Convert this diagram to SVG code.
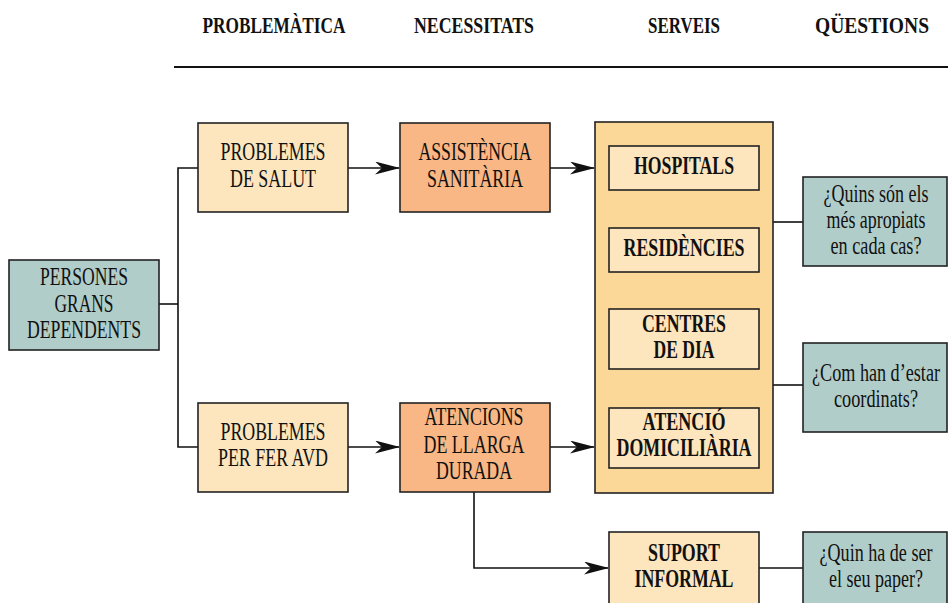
<svg xmlns="http://www.w3.org/2000/svg" width="948" height="603" viewBox="0 0 948 603">
<defs>
<marker id="ah" markerWidth="25" markerHeight="13" refX="24" refY="6.5" orient="auto" markerUnits="userSpaceOnUse">
<path d="M0,0 L25,6.5 L0,13 L7,6.5 Z" fill="#111"/>
</marker>
</defs>
<style>
.t{font-family:"Liberation Serif","Times New Roman",serif;font-size:25px;fill:#111;text-anchor:middle}
.b{font-weight:bold}
.h{font-family:"Liberation Serif","Times New Roman",serif;font-size:23px;font-weight:bold;fill:#111;text-anchor:middle}
.box{stroke:#222;stroke-width:1.6}
.teal{fill:#b1cdc9}
.light{fill:#fde5bd}
.orange{fill:#f8b784}
.gold{fill:#fcd898}
.c{fill:none;stroke:#111;stroke-width:1.6}
</style>
<rect width="948" height="603" fill="#fff"/>
<g id="header">
<text class="h" x="274" y="33" textLength="143" lengthAdjust="spacingAndGlyphs">PROBLEMÀTICA</text>
<text class="h" x="474" y="33" textLength="120" lengthAdjust="spacingAndGlyphs">NECESSITATS</text>
<text class="h" x="684" y="33" textLength="72" lengthAdjust="spacingAndGlyphs">SERVEIS</text>
<text class="h" x="872" y="33" textLength="114" lengthAdjust="spacingAndGlyphs">QÜESTIONS</text>
<line x1="174" y1="67" x2="948" y2="67" stroke="#111" stroke-width="2"/>
</g>
<g id="connectors">
<polyline class="c" points="159,304 178,304"/>
<polyline class="c" points="198,168 178,168 178,447 198,447"/>
<line class="c" x1="348" y1="168" x2="399" y2="168" marker-end="url(#ah)"/>
<line class="c" x1="550" y1="168" x2="594" y2="168" marker-end="url(#ah)"/>
<line class="c" x1="348" y1="447" x2="399" y2="447" marker-end="url(#ah)"/>
<line class="c" x1="550" y1="447" x2="594" y2="447" marker-end="url(#ah)"/>
<polyline class="c" points="474,492 474,568 608,568" marker-end="url(#ah)"/>
<line class="c" x1="773" y1="222" x2="803" y2="222"/>
<line class="c" x1="773" y1="385" x2="803" y2="385"/>
<line class="c" x1="759" y1="568" x2="803" y2="568"/>
</g>
<g id="persones">
<rect class="box teal" x="9" y="260" width="150" height="90"/>
<text class="t" x="84" y="285" textLength="88" lengthAdjust="spacingAndGlyphs">PERSONES</text>
<text class="t" x="84" y="312" textLength="59" lengthAdjust="spacingAndGlyphs">GRANS</text>
<text class="t" x="84" y="338" textLength="114" lengthAdjust="spacingAndGlyphs">DEPENDENTS</text>
</g>
<g id="problemes-salut">
<rect class="box light" x="198" y="123" width="150" height="89"/>
<text class="t" x="273" y="160" textLength="105" lengthAdjust="spacingAndGlyphs">PROBLEMES</text>
<text class="t" x="273" y="187" textLength="86" lengthAdjust="spacingAndGlyphs">DE SALUT</text>
</g>
<g id="assistencia">
<rect class="box orange" x="400" y="123" width="150" height="89"/>
<text class="t" x="475" y="160" textLength="113" lengthAdjust="spacingAndGlyphs">ASSISTÈNCIA</text>
<text class="t" x="475" y="187" textLength="96" lengthAdjust="spacingAndGlyphs">SANITÀRIA</text>
</g>
<g id="serveis">
<rect class="box gold" x="595" y="122" width="178" height="371"/>
</g>
<g id="hospitals">
<rect class="box light" x="609" y="146" width="150" height="44"/>
<text class="t b" x="684" y="174" textLength="100" lengthAdjust="spacingAndGlyphs">HOSPITALS</text>
</g>
<g id="residencies">
<rect class="box light" x="609" y="228" width="150" height="44"/>
<text class="t b" x="684" y="256" textLength="121" lengthAdjust="spacingAndGlyphs">RESIDÈNCIES</text>
</g>
<g id="centres">
<rect class="box light" x="609" y="309" width="150" height="60"/>
<text class="t b" x="684" y="332" textLength="84" lengthAdjust="spacingAndGlyphs">CENTRES</text>
<text class="t b" x="684" y="358" textLength="61" lengthAdjust="spacingAndGlyphs">DE DIA</text>
</g>
<g id="atencio">
<rect class="box light" x="609" y="408" width="150" height="60"/>
<text class="t b" x="684" y="430" textLength="83" lengthAdjust="spacingAndGlyphs">ATENCIÓ</text>
<text class="t b" x="684" y="456" textLength="135" lengthAdjust="spacingAndGlyphs">DOMICILIÀRIA</text>
</g>
<g id="q1">
<rect class="box teal" x="803" y="177" width="144" height="89"/>
<text class="t" x="876" y="202" textLength="105" lengthAdjust="spacingAndGlyphs">¿Quins són els</text>
<text class="t" x="876" y="228" textLength="99" lengthAdjust="spacingAndGlyphs">més apropiats</text>
<text class="t" x="876" y="254" textLength="91" lengthAdjust="spacingAndGlyphs">en cada cas?</text>
</g>
<g id="q2">
<rect class="box teal" x="803" y="343" width="144" height="89"/>
<text class="t" x="876" y="381" textLength="128" lengthAdjust="spacingAndGlyphs">¿Com han d’estar</text>
<text class="t" x="876" y="407" textLength="84" lengthAdjust="spacingAndGlyphs">coordinats?</text>
</g>
<g id="problemes-avd">
<rect class="box light" x="198" y="403" width="150" height="89"/>
<text class="t" x="273" y="440" textLength="105" lengthAdjust="spacingAndGlyphs">PROBLEMES</text>
<text class="t" x="273" y="466" textLength="110" lengthAdjust="spacingAndGlyphs">PER FER AVD</text>
</g>
<g id="atencions">
<rect class="box orange" x="400" y="403" width="150" height="89"/>
<text class="t" x="474" y="425" textLength="99" lengthAdjust="spacingAndGlyphs">ATENCIONS</text>
<text class="t" x="474" y="453" textLength="101" lengthAdjust="spacingAndGlyphs">DE LLARGA</text>
<text class="t" x="474" y="479" textLength="76" lengthAdjust="spacingAndGlyphs">DURADA</text>
</g>
<g id="suport">
<rect class="box light" x="609" y="532" width="150" height="90"/>
<text class="t b" x="684" y="561" textLength="72" lengthAdjust="spacingAndGlyphs">SUPORT</text>
<text class="t b" x="684" y="587" textLength="99" lengthAdjust="spacingAndGlyphs">INFORMAL</text>
</g>
<g id="q3">
<rect class="box teal" x="803" y="532" width="144" height="90"/>
<text class="t" x="876" y="561" textLength="113" lengthAdjust="spacingAndGlyphs">¿Quin ha de ser</text>
<text class="t" x="876" y="587" textLength="94" lengthAdjust="spacingAndGlyphs">el seu paper?</text>
</g>
</svg>
